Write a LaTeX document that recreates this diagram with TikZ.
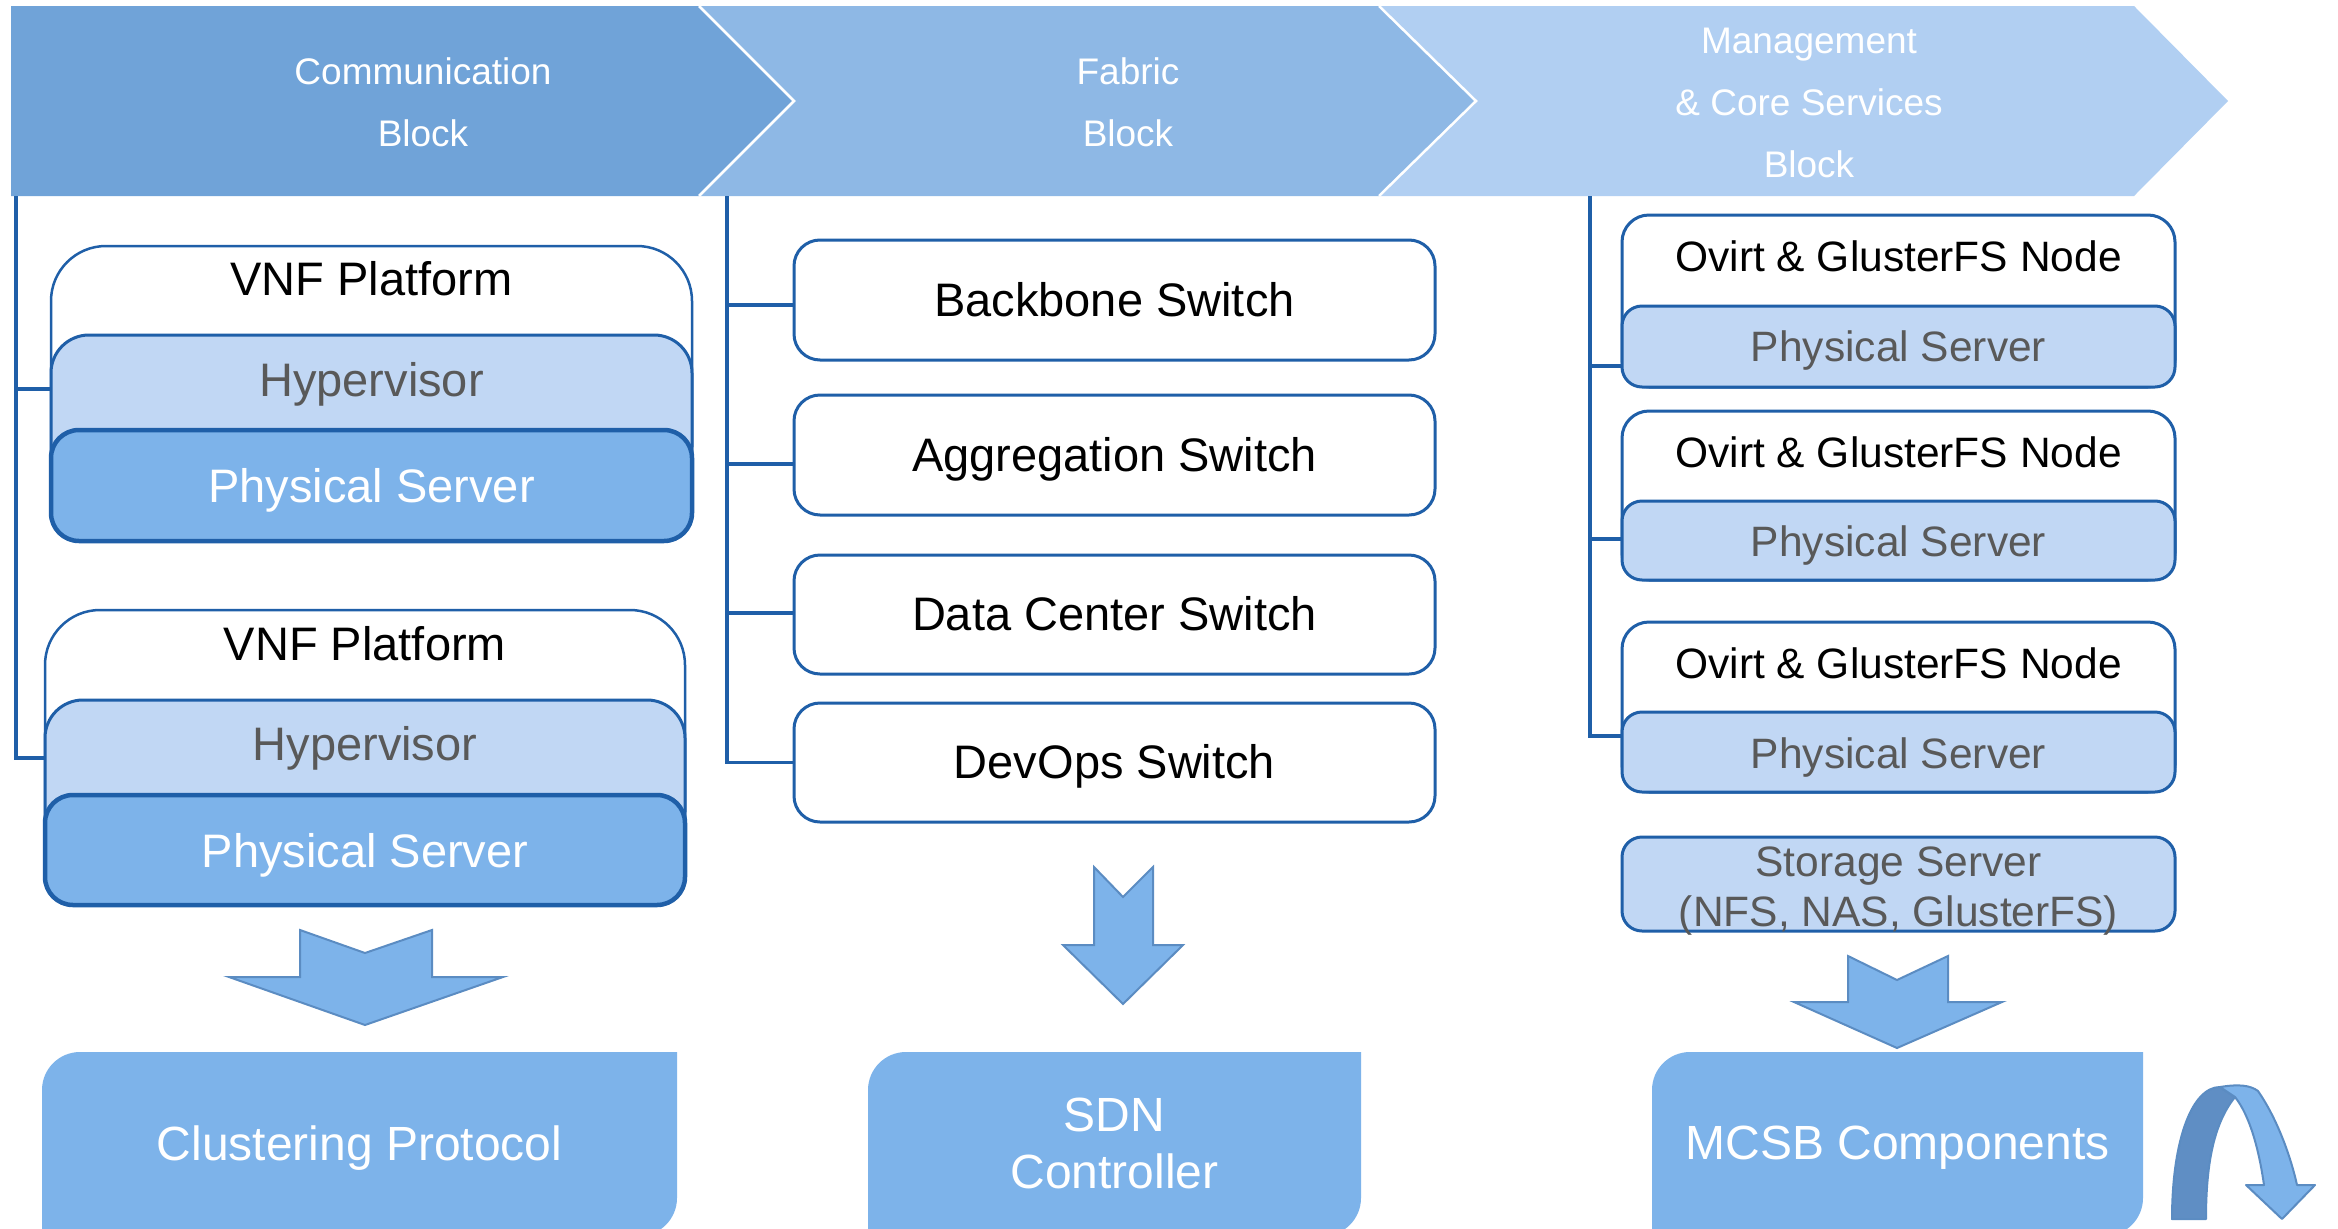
\documentclass[tikz,border=0pt]{standalone}
\usepackage{fontspec}
\setmainfont{Liberation Sans}
\definecolor{chA}{HTML}{70A3D8}
\definecolor{chB}{HTML}{8EB8E5}
\definecolor{chC}{HTML}{B1CFF2}
\definecolor{edgeblue}{HTML}{1F5FA8}
\definecolor{hypfill}{HTML}{C1D7F4}
\definecolor{psfill}{HTML}{7DB3EA}
\definecolor{gtext}{HTML}{595959}
\definecolor{arrowedge}{HTML}{5B8CC2}
\definecolor{ribdark}{HTML}{5F8EC4}
\begin{document}
\begin{tikzpicture}[x=1pt,y=-1pt,
  conn/.style={draw=edgeblue, line width=3.5pt},
  vnfshell/.style={rectangle, draw=edgeblue, fill=white, line width=2.5pt, rounded corners=55pt, inner sep=0pt, minimum width=641pt, minimum height=295pt},
  hyplayer/.style={rectangle, draw=edgeblue, fill=hypfill, line width=3pt, rounded corners=38pt, inner sep=0pt, minimum width=641pt, minimum height=150pt},
  pslayer/.style={rectangle, draw=edgeblue, fill=psfill, line width=4.5pt, rounded corners=28pt, inner sep=0pt, minimum width=641pt, minimum height=111pt},
  swbox/.style={rectangle, draw=edgeblue, fill=white, line width=3pt, rounded corners=26pt, inner sep=0pt, minimum width=641pt, minimum height=120pt},
  ovshell/.style={rectangle, draw=edgeblue, fill=white, line width=3pt, rounded corners=27pt, inner sep=0pt, minimum width=553pt},
  pslight/.style={rectangle, draw=edgeblue, fill=hypfill, line width=3pt, rounded corners=20pt, inner sep=0pt, minimum width=553pt},
  bigarrow/.style={fill=psfill, draw=arrowedge, line width=2pt, line join=miter},
  bottombox/.style={fill=psfill},
  tbig/.style={anchor=base, inner sep=0pt, font=\fontsize{47pt}{56pt}\selectfont},
  tmid/.style={anchor=base, inner sep=0pt, font=\fontsize{42.5pt}{50pt}\selectfont},
  thead/.style={anchor=base, inner sep=0pt, text=white, font=\fontsize{37pt}{44pt}\selectfont},
  tbot/.style={anchor=base, inner sep=0pt, text=white, font=\fontsize{48pt}{57pt}\selectfont}
]
\useasboundingbox (0,0) rectangle (2338,1229);
\clip (0,0) rectangle (2338,1229);
\fill[white] (0,0) rectangle (2338,1229);

% ---------- header chevrons ----------
\fill[chC] (1379,6) -- (2134,6) -- (2228,101) -- (2134,196) -- (1379,196) -- (1476,101) -- cycle;
\fill[chB] (699,6) -- (1379,6) -- (1476,101) -- (1379,196) -- (699,196) -- (794,101) -- cycle;
\fill[chA] (11,6) -- (699,6) -- (794,101) -- (699,196) -- (11,196) -- cycle;
\draw[white, line width=2.5pt] (699,6) -- (794,101) -- (699,196);
\draw[white, line width=2.5pt] (1379,6) -- (1476,101) -- (1379,196);

\node[thead] (h1a) at (423,84) {Communication};
\node[thead] (h1b) at (423,146) {Block};
\node[thead] (h2a) at (1128,84) {Fabric};
\node[thead] (h2b) at (1128,146) {Block};
\node[thead] (h3a) at (1809,53) {Management};
\node[thead] (h3b) at (1809,115) {\& Core Services};
\node[thead] (h3c) at (1809,177) {Block};

% ---------- bracket anchors ----------
\coordinate (lb) at (16,196);
\coordinate (mb) at (727,196);
\coordinate (rb) at (1590,196);

% ---------- communication block ----------
\node[vnfshell] (vnf1) at (371.5,393.5) {};
\node[hyplayer] (hyp1) at (371.5,410) {};
\node[pslayer] (ps1) at (371.5,485.5) {};
\node[tbig] (vnf1t) at (371.5,295) {VNF Platform};
\node[tbig, text=gtext] (hyp1t) at (371.5,396) {Hypervisor};
\node[tbig, text=white] (ps1t) at (371.5,502) {Physical Server};

\node[vnfshell, minimum width=640pt] (vnf2) at (365,757.5) {};
\node[hyplayer, minimum width=640pt] (hyp2) at (365,775) {};
\node[pslayer, minimum width=640pt, minimum height=110pt] (ps2) at (365,850) {};
\node[tbig] (vnf2t) at (365,660) {VNF Platform};
\node[tbig, text=gtext] (hyp2t) at (365,760.5) {Hypervisor};
\node[tbig, text=white] (ps2t) at (365,867) {Physical Server};

\draw[conn] (lb) |- (vnf2.west |- 0,758);
\draw[conn] (lb |- 0,389) -- (vnf1.west |- 0,389);

\path[bigarrow] (300,930) -- (365,953) -- (432,930) -- (432,977) -- (503,977) -- (365,1025) -- (229,977) -- (300,977) -- cycle;

\fill[bottombox] (42,1236) -- (42,1090) arc[start angle=180, end angle=270, radius=38] -- (677,1052) -- (677,1198) arc[start angle=0, end angle=90, radius=38] -- cycle;
\node[tbot] (clus) at (359.5,1160) {Clustering Protocol};

% ---------- fabric block ----------
\node[swbox] (sw1) at (1114.5,300) {};
\node[swbox] (sw2) at (1114.5,455) {};
\node[swbox, minimum height=119pt] (sw3) at (1114.5,614.5) {};
\node[swbox, minimum height=119pt] (sw4) at (1114.5,762.5) {};
\node[tbig] (sw1t) at (1114.5,316) {Backbone Switch};
\node[tbig] (sw2t) at (1114.5,471) {Aggregation Switch};
\node[tbig] (sw3t) at (1114.5,630) {Data Center Switch};
\node[tbig] (sw4t) at (1114.5,778) {DevOps Switch};

\draw[conn] (mb) |- (sw4.west);
\draw[conn] (mb |- 0,305) -- (sw1.west |- 0,305);
\draw[conn] (mb |- 0,464) -- (sw2.west |- 0,464);
\draw[conn] (mb |- 0,613) -- (sw3.west |- 0,613);

\path[bigarrow] (1094,867) -- (1123,897) -- (1153,867) -- (1153,945) -- (1183,945) -- (1123,1004) -- (1063,945) -- (1094,945) -- cycle;

\fill[bottombox] (868,1236) -- (868,1090) arc[start angle=180, end angle=270, radius=38] -- (1361,1052) -- (1361,1198) arc[start angle=0, end angle=90, radius=38] -- cycle;
\node[tbot] (sdn1) at (1114.5,1131) {SDN};
\node[tbot] (sdn2) at (1114.5,1188) {Controller};

% ---------- management & core services block ----------
\node[ovshell, minimum height=172pt] (ov1) at (1898.5,301) {};
\node[pslight, minimum height=81pt] (ovps1) at (1898.5,346.5) {};
\node[ovshell, minimum height=169pt] (ov2) at (1898.5,495.5) {};
\node[pslight, minimum height=79pt] (ovps2) at (1898.5,540.5) {};
\node[ovshell, minimum height=170pt] (ov3) at (1898.5,707) {};
\node[pslight, minimum height=80pt] (ovps3) at (1898.5,752) {};
\node[pslight, minimum height=94pt] (stor) at (1898.5,884) {};

\node[tmid] (ov1t) at (1898.5,271) {Ovirt \& GlusterFS Node};
\node[tmid, text=gtext] (ovps1t) at (1898.5,361) {Physical Server};
\node[tmid] (ov2t) at (1898.5,467) {Ovirt \& GlusterFS Node};
\node[tmid, text=gtext] (ovps2t) at (1898.5,556) {Physical Server};
\node[tmid] (ov3t) at (1898.5,678) {Ovirt \& GlusterFS Node};
\node[tmid, text=gtext] (ovps3t) at (1898.5,768) {Physical Server};
\node[tmid, text=gtext] (stor1) at (1898.5,876) {Storage Server};
\node[tmid, text=gtext] (stor2) at (1898.5,926) {(NFS, NAS, GlusterFS)};

\draw[conn] (rb) |- (ov3.west |- 0,736);
\draw[conn] (rb |- 0,366) -- (ov1.west |- 0,366);
\draw[conn] (rb |- 0,539) -- (ov2.west |- 0,539);

\path[bigarrow] (1848,956) -- (1897,980) -- (1948,956) -- (1948,1002) -- (2002,1002) -- (1897,1048) -- (1794,1002) -- (1848,1002) -- cycle;

\fill[bottombox] (1652,1236) -- (1652,1090) arc[start angle=180, end angle=270, radius=38] -- (2143,1052) -- (2143,1198) arc[start angle=0, end angle=90, radius=38] -- cycle;
\node[tbot] (mcsb) at (1897.5,1159) {MCSB Components};

% ---------- curved arrow ----------
\path[fill=ribdark, draw=arrowedge, line width=2pt, line join=round]
  (2172,1219) .. controls (2172,1140) and (2192,1087) .. (2220,1087)
  -- (2235,1097) .. controls (2215,1122) and (2206,1160) .. (2206,1219) -- cycle;
\path[fill=psfill, draw=arrowedge, line width=2pt, line join=round]
  (2220,1087) .. controls (2238,1084) and (2250,1085) .. (2258,1091)
  .. controls (2278,1120) and (2291,1158) .. (2297,1185)
  -- (2315,1185) -- (2282,1219) -- (2246,1185) -- (2264,1185)
  .. controls (2259,1150) and (2250,1116) .. (2235,1097) -- cycle;
\end{tikzpicture}
\end{document}
